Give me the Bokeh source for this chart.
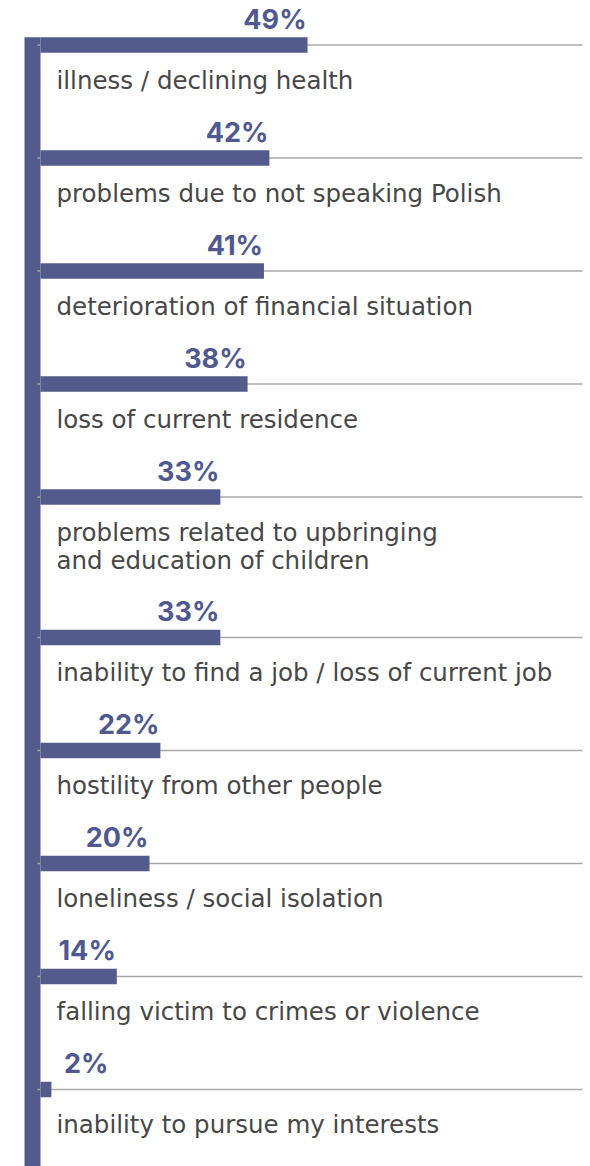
from bokeh.plotting import figure
from bokeh.models import Range1d, ColumnDataSource
from bokeh.core.properties import value
from bokeh.embed import file_html
from bokeh.resources import INLINE

labels = [
    "illness / declining health",
    "problems due to not speaking Polish",
    "deterioration of financial situation",
    "loss of current residence",
    "problems related to upbringing\nand education of children",
    "inability to find a job / loss of current job",
    "hostility from other people",
    "loneliness / social isolation",
    "falling victim to crimes or violence",
    "inability to pursue my interests",
]
values = [49, 42, 41, 38, 33, 33, 22, 20, 14, 2]
value_labels = [f"{v}%" for v in values]

BAR = "#525b8c"
VAL = "#4f5990"
TXT = "#474747"
GRID = "#a8a8a8"

W, H = 590, 1166
PX_PER_PCT = 5.45
X0_PX = 40  # pixel position of 0%

LAB_FS = 24.5
VAL_FS = 27
BASE_FIX = 0.42  # em correction for baseline placement

# row positions (pixels from top of figure)
ys = []
y = 44.5
for lab in labels:
    ys.append(y)
    y += 113 + 27.5 * (lab.count("\n"))

p = figure(width=W, height=H, output_backend="svg", toolbar_location=None,
           x_range=Range1d(-X0_PX / PX_PER_PCT, (W - X0_PX) / PX_PER_PCT),
           y_range=Range1d(H, 0), min_border=0)
p.axis.visible = False
p.grid.visible = False
p.outline_line_color = None
p.background_fill_color = "white"
p.border_fill_color = "white"

# vertical spine
p.quad(left=-16 / PX_PER_PCT, right=0, top=ys[0] - 7.75, bottom=H,
       fill_color=BAR, line_color=None)

# gray guide lines
p.segment(x0=[-3 / PX_PER_PCT] * len(ys), x1=[(582 - X0_PX) / PX_PER_PCT] * len(ys),
          y0=ys, y1=ys, line_color=GRID, line_width=1.5)

# value label anchor: bar end, but never too close to the spine
min_anchor = 69 / PX_PER_PCT
label_x = [max(v, min_anchor) for v in values]

src = ColumnDataSource(dict(y=ys, v=values, vl=value_labels, lx=label_x))
p.hbar(y="y", left=0, right="v", height=15.5, source=src,
       fill_color=BAR, line_color=None)

p.text(x="lx", y="y", text="vl", source=src, x_offset=-1,
       y_offset=-14.5 - BASE_FIX * VAL_FS,
       text_align="right", text_baseline="alphabetic",
       text_font=value("Inter"), text_font_style="bold",
       text_font_size=f"{VAL_FS}px", text_color=VAL)

# category labels (split multi-line)
lx, ly, lt, lo = [], [], [], []
for yy, lab in zip(ys, labels):
    for i, line in enumerate(lab.split("\n")):
        lx.append(0)
        ly.append(yy)
        lt.append(line)
        lo.append(45.5 - BASE_FIX * LAB_FS + 28.5 * i)
lsrc = ColumnDataSource(dict(x=lx, y=ly, t=lt, o=lo))
p.text(x="x", y="y", text="t", y_offset="o", x_offset=16, source=lsrc,
       text_align="left", text_baseline="alphabetic",
       text_font=value("DejaVu Sans"), text_font_size=f"{LAB_FS}px",
       text_color=TXT)

open("out.html", "w").write(file_html(p, INLINE))
